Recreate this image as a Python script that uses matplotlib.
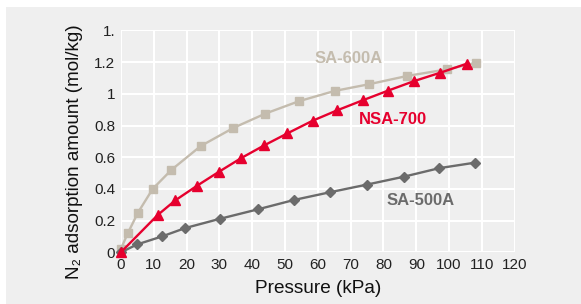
import matplotlib.pyplot as plt
from matplotlib.patches import Rectangle

# values
sa600_p = [0, 2.1, 5.2, 9.7, 15.4, 24.3, 34.3, 44.0, 54.2, 65.1, 75.5, 87.3, 99.3, 108.3]
sa600_q = [0.02, 0.12, 0.25, 0.40, 0.52, 0.67, 0.785, 0.875, 0.953, 1.018, 1.06, 1.113, 1.154, 1.196]

nsa700_p = [0, 11.2, 16.6, 23.2, 29.8, 36.7, 43.7, 50.7, 58.4, 65.8, 73.8, 81.4, 89.3, 97.3, 105.4]
nsa700_q = [0, 0.235, 0.328, 0.42, 0.507, 0.595, 0.675, 0.75, 0.83, 0.895, 0.96, 1.02, 1.08, 1.133, 1.19]

sa500_p = [0, 5.0, 12.5, 19.6, 30.1, 41.9, 52.7, 63.7, 74.9, 86.2, 97.0, 108.0]
sa500_q = [0, 0.05, 0.10, 0.153, 0.211, 0.272, 0.33, 0.379, 0.427, 0.477, 0.531, 0.566]

x_ticks = list(range(0, 130, 10))
y_ticks = [0, 0.2, 0.4, 0.6, 0.8, 1.0, 1.2, 1.4]
y_tick_labels = ['0', '0.2', '0.4', '0.6', '0.8', '1', '1.2', '1.']

plt.rcParams['font.family'] = ['Liberation Sans', 'DejaVu Sans']

bg = '#efefef'
c600 = '#c4bcae'
c700 = '#e6002e'
c500 = '#6b6b6b'

fig = plt.figure(figsize=(5.81, 3.04), dpi=100)
fig.patch.set_facecolor('white')
fig.patches.append(Rectangle((6 / 581, 0), 1, 1 - 7 / 304, transform=fig.transFigure,
                             facecolor=bg, edgecolor='none', zorder=0))

ax = fig.add_axes([0.208, 0.170, 0.678, 0.730])
ax.set_zorder(2)
ax.set_facecolor(bg)
for s in ax.spines.values():
    s.set_visible(False)
ax.grid(True, color='white', lw=1.5)
ax.set_axisbelow(True)

ax.plot(sa600_p, sa600_q, color=c600, lw=1.7, marker='s', ms=6.3, clip_on=False, zorder=3)
ax.plot(sa500_p, sa500_q, color=c500, lw=1.7, marker='D', ms=5.5, clip_on=False, zorder=3)
ax.plot(nsa700_p, nsa700_q, color=c700, lw=1.7, marker='^', ms=6.5, clip_on=False, zorder=4)

ax.text(69.5, 1.22, 'SA-600A', color=c600, fontsize=12, fontweight='bold', ha='center', va='center')
ax.text(82.9, 0.84, 'NSA-700', color=c700, fontsize=12, fontweight='bold', ha='center', va='center')
ax.text(91.4, 0.33, 'SA-500A', color=c500, fontsize=12, fontweight='bold', ha='center', va='center')

ax.set_xlim(0, 120)
ax.set_ylim(0, 1.4)
ax.set_xticks(x_ticks)
ax.set_yticks(y_ticks)
ax.set_yticklabels(y_tick_labels)
ax.tick_params(length=0, labelsize=11, colors='#222222', pad=4)

ax.set_xlabel('Pressure (kPa)', fontsize=13.7, color='#111111', labelpad=6)
ax.set_ylabel('N\u2082 adsorption amount (mol/kg)', fontsize=13.6, color='#111111')
ax.yaxis.set_label_coords(-0.097, 0.452)

fig.savefig('out.png', dpi=100, facecolor=fig.get_facecolor())
